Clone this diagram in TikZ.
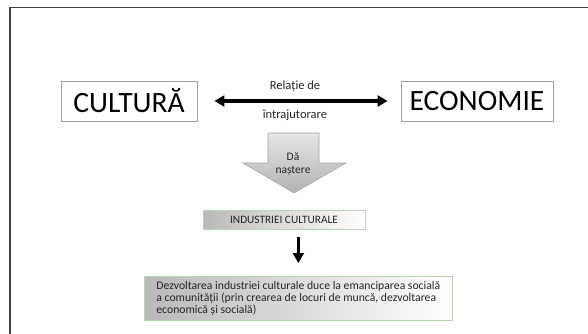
\documentclass[tikz,border=0pt]{standalone}
\usepackage{fontspec}
\setmainfont{Carlito}
\usetikzlibrary{arrows.meta}
\tikzset{
  mainbox/.style={draw=gray!75, line width=0.9pt, minimum height=40, inner xsep=6, font=\fontsize{29.5}{31}\selectfont, text=black},
  thickarrow/.style={line width=3.2pt, -{Triangle[length=10pt,width=11pt]}},
  dblarrow/.style={line width=3.2pt, {Triangle[length=10pt,width=11pt]}-{Triangle[length=10pt,width=11pt]}},
  smalllabel/.style={font=\fontsize{12.5}{14}\selectfont, text=black!85},
  gradbox/.style={draw=green!25!gray!45, line width=0.8pt, left color=gray!55, right color=white, text=black!85}
}
\begin{document}
\begin{tikzpicture}[x=1pt,y=-1pt]
\useasboundingbox (0,0) rectangle (588,334);
\fill[white] (0,0) rectangle (588,334);
% slide frame
\draw[line width=1.8pt, gray!50!black] (10,340) -- (10,7.5) -- (600,7.5);

\node[mainbox, minimum width=136] (cult) at (129,101) {CULTURĂ};
\node[mainbox, minimum width=152] (econ) at (477,101) {ECONOMIE};
\draw[dblarrow, shorten <=17pt, shorten >=13pt] (cult) -- (econ);
\node[smalllabel] (rel) at (295,86) {Relație de};
\node[smalllabel] (intr) at (295,115) {întrajutorare};

% big down arrow
\draw[draw=gray!70, line width=0.6pt, top color=gray!20, bottom color=gray!60]
  (268,133) -- (319,133) -- (319,163) -- (346,163) -- (294,193) -- (243,163) -- (268,163) -- cycle;
\node[font=\fontsize{11.5}{12.5}\selectfont, text=black!85, align=center, inner sep=0] (naste) at (293,164) {Dă\\naștere};

\node[gradbox, minimum width=162, minimum height=19, font=\fontsize{11.3}{12}\selectfont] (ind) at (284,219.5) {INDUSTRIEI CULTURALE};
\node[gradbox, minimum width=300, minimum height=44, anchor=north west, align=left, inner xsep=12, font=\fontsize{11.7}{12.2}\selectfont] (bot) at (144,276)
  {Dezvoltarea industriei culturale duce la emanciparea socială\\a comunității (prin crearea de locuri de muncă, dezvoltarea\\economică și socială)};
\draw[thickarrow, shorten <=8pt, shorten >=13pt] (ind.south -| bot.north) -- (bot.north);
\end{tikzpicture}
\end{document}
